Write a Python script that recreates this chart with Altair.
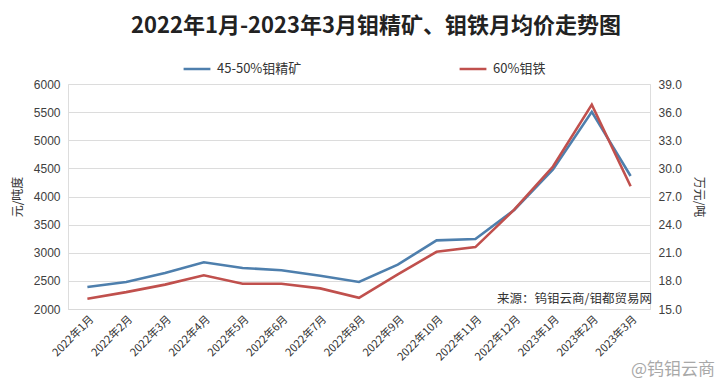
import altair as alt
import pandas as pd

months = ["2022年1月", "2022年2月", "2022年3月", "2022年4月", "2022年5月", "2022年6月",
          "2022年7月", "2022年8月", "2022年9月", "2022年10月", "2022年11月", "2022年12月",
          "2023年1月", "2023年2月", "2023年3月"]
concentrate = [2390, 2480, 2640, 2830, 2730, 2690, 2590, 2480, 2790, 3220, 3245, 3760, 4480, 5505, 4365]
ferro = [16.1, 16.8, 17.6, 18.6, 17.7, 17.7, 17.2, 16.2, 18.7, 21.1, 21.6, 25.6, 30.2, 36.8, 28.1]
series_names = ["45-50%钼精矿", "60%钼铁"]
series_colors = ["#4e7fad", "#c0504d"]
left_ticks = [2000, 2500, 3000, 3500, 4000, 4500, 5000, 5500, 6000]
right_ticks = [15, 18, 21, 24, 27, 30, 33, 36, 39]

FONT = "Liberation Sans, Noto Sans CJK SC, sans-serif"
CJK = "Noto Sans CJK SC, sans-serif"

df_c = pd.DataFrame({"month": months, "value": concentrate, "series": series_names[0]})
df_f = pd.DataFrame({"month": months, "value": ferro, "series": series_names[1]})

color = alt.Color(
    "series:N",
    scale=alt.Scale(domain=series_names, range=series_colors),
    legend=alt.Legend(
        title=None, orient="none", legendX=114, legendY=-30, direction="horizontal",
        symbolType="stroke", symbolSize=720, symbolStrokeWidth=2.5,
        labelFontSize=13, labelFont=CJK, labelColor="#333333", labelOffset=5,
        columnPadding=152, padding=0,
    ),
)

x = alt.X(
    "month:O", sort=months, title=None,
    axis=alt.Axis(labelAngle=-45, labelFontSize=11, labelFont=CJK, labelColor="#333333",
                  ticks=False, domain=True, domainColor="#d9d9d9", labelPadding=4, grid=False),
)

left = alt.Chart(df_c).mark_line(strokeWidth=2.6).encode(
    x=x,
    y=alt.Y("value:Q", scale=alt.Scale(domain=[2000, 6000], nice=False, zero=False),
            axis=alt.Axis(values=left_ticks, format="d", title="元/吨度", titleFont=CJK,
                          titleFontSize=12, titleFontWeight="normal", titleColor="#333333",
                          titlePadding=9,
                          labelFontSize=12, labelFont=FONT, labelColor="#404040",
                          labelPadding=8, ticks=False, domain=False,
                          grid=True, gridColor="#dcdcdc", gridWidth=1)),
    color=color,
)

right = alt.Chart(df_f).mark_line(strokeWidth=2.6).encode(
    x=x,
    y=alt.Y("value:Q", scale=alt.Scale(domain=[15, 39], nice=False, zero=False),
            axis=alt.Axis(orient="right", values=right_ticks, format=".1f", title="万元/吨",
                          titleFont=CJK, titleFontSize=12, titleFontWeight="normal",
                          titleColor="#333333", titlePadding=10,
                          labelFontSize=12, labelFont=FONT, labelColor="#404040",
                          labelPadding=8, ticks=False, domain=False, grid=False)),
    color=color,
)

source = alt.Chart(pd.DataFrame({"t": ["来源：钨钼云商/钼都贸易网"]})).mark_text(
    align="right", baseline="middle", fontSize=12.5, font=CJK, color="#333333"
).encode(x=alt.value(584), y=alt.value(215), text="t:N")

mark = alt.Chart(pd.DataFrame({"t": ["@钨钼云商"]})).mark_text(
    align="right", baseline="middle", fontSize=17, font=CJK, color="#9a9a9a", opacity=0.85
).encode(x=alt.value(647), y=alt.value(286), text="t:N")

chart = alt.layer(left, right, source, mark).resolve_scale(y="independent").properties(
    width=582, height=225,
    autosize=alt.AutoSizeParams(type="none"),
    padding={"left": 60, "top": 76, "right": 67, "bottom": 71},
    title=alt.Title("2022年1月-2023年3月钼精矿、钼铁月均价走势图", font=CJK, fontSize=22,
                    fontWeight="bold", color="#222222", anchor="middle", dx=17, dy=-6,
                    offset=10),
).configure_view(stroke=None).configure(background="white")

chart.save("out.html", embed_options={"renderer": "svg", "actions": False})
